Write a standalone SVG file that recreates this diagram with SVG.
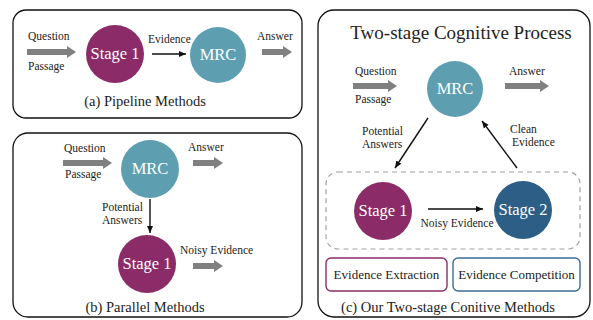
<svg xmlns="http://www.w3.org/2000/svg" width="593" height="320" viewBox="0 0 593 320" font-family="'Liberation Serif', 'Times New Roman', 'DejaVu Serif', serif">
<defs>
<style>
text{font-family:'Liberation Serif','Times New Roman','DejaVu Serif',serif;fill:#222}
.panel{fill:#fff;stroke:#111;stroke-width:1.3}
.s{font-size:11.5px}
.cap{font-size:14.5px}
.in{font-size:16.5px;fill:#fff;text-anchor:middle}
.stage1{fill:#8b2c68}
.mrc{fill:#5d9fb1}
.stage2{fill:#2c5e86}
.thick{stroke:#808080;stroke-width:6;fill:none}
.thin{stroke:#111;stroke-width:1.4;fill:none}
.dash{fill:none;stroke:#a0a0a0;stroke-width:1.2;stroke-dasharray:5 4}
.lbl{font-size:13px;text-anchor:middle}
</style>
<marker id="big" markerUnits="userSpaceOnUse" markerWidth="10" markerHeight="14" refX="1" refY="7" orient="auto">
<path d="M0,1 L9,7 L0,13 Z" fill="#808080"/>
</marker>
<marker id="small" markerUnits="userSpaceOnUse" markerWidth="8" markerHeight="8" refX="7" refY="4" orient="auto">
<path d="M0,1 L7,4 L0,7 Z" fill="#111"/>
</marker>
</defs>

<g id="panel-a">
<rect class="panel" x="13" y="10" width="289" height="108" rx="13"/>
<text class="cap" x="145" y="106" text-anchor="middle">(a) Pipeline Methods</text>
</g>
<g id="panel-b">
<rect class="panel" x="13" y="133" width="289" height="184" rx="15"/>
<text class="cap" x="145" y="312" text-anchor="middle">(b) Parallel Methods</text>
</g>
<g id="panel-c">
<rect class="panel" x="318" y="10" width="272" height="307" rx="16"/>
<text x="461" y="39" text-anchor="middle" font-size="19">Two-stage Cognitive Process</text>
<rect class="dash" x="326" y="172" width="254" height="77" rx="12"/>
<text class="cap" x="448" y="312" text-anchor="middle">(c) Our Two-stage Conitive Methods</text>
</g>

<g id="a-stage1"><circle class="stage1" cx="115" cy="54" r="29"/><text class="in" x="115" y="59">Stage 1</text></g>
<g id="a-mrc"><circle class="mrc" cx="218" cy="55" r="28"/><text class="in" x="218" y="60">MRC</text></g>

<g id="b-mrc"><circle class="mrc" cx="150" cy="169" r="29"/><text class="in" x="150" y="174">MRC</text></g>
<g id="b-stage1"><circle class="stage1" cx="147" cy="264" r="29"/><text class="in" x="147" y="269">Stage 1</text></g>

<g id="c-mrc"><circle class="mrc" cx="455" cy="89" r="28"/><text class="in" x="455" y="94">MRC</text></g>
<g id="c-stage1"><circle class="stage1" cx="383" cy="211" r="29"/><text class="in" x="383" y="216">Stage 1</text></g>
<g id="c-stage2"><circle class="stage2" cx="523" cy="210" r="29"/><text class="in" x="523" y="215">Stage 2</text></g>

<g id="c-extraction"><rect x="326" y="258" width="121" height="33" rx="5" fill="#fff" stroke="#8b2c68" stroke-width="1.4"/><text class="lbl" x="386.5" y="279">Evidence Extraction</text></g>
<g id="c-competition"><rect x="453" y="258" width="127" height="33" rx="5" fill="#fff" stroke="#3d6c94" stroke-width="1.4"/><text class="lbl" x="516.5" y="279">Evidence Competition</text></g>

<g id="connectors">
<line class="thick" x1="27" y1="52" x2="68" y2="52" marker-end="url(#big)"/>
<line class="thick" x1="262" y1="52" x2="284" y2="52" marker-end="url(#big)"/>
<line class="thin" x1="152" y1="54" x2="186" y2="54" marker-end="url(#small)"/>

<line class="thick" x1="63" y1="163" x2="104" y2="163" marker-end="url(#big)"/>
<line class="thick" x1="193" y1="163" x2="215" y2="163" marker-end="url(#big)"/>
<line class="thin" x1="150" y1="199" x2="150" y2="233" marker-end="url(#small)"/>
<line class="thick" x1="193" y1="266" x2="215" y2="266" marker-end="url(#big)"/>

<line class="thick" x1="353" y1="86" x2="389" y2="86" marker-end="url(#big)"/>
<line class="thick" x1="505" y1="86" x2="541" y2="86" marker-end="url(#big)"/>
<line class="thin" x1="428" y1="118" x2="395" y2="168" marker-end="url(#small)"/>
<line class="thin" x1="517" y1="168" x2="482" y2="121" marker-end="url(#small)"/>
<line class="thin" x1="428" y1="209" x2="483" y2="209" marker-end="url(#small)"/>
</g>

<g id="labels">
<text class="s" x="28" y="40">Question</text>
<text class="s" x="28" y="70">Passage</text>
<text class="s" x="148" y="43">Evidence</text>
<text class="s" x="257" y="40">Answer</text>

<text class="s" x="64" y="152">Question</text>
<text class="s" x="65" y="178">Passage</text>
<text class="s" x="188" y="151">Answer</text>
<text class="s" x="102" y="211">Potential</text>
<text class="s" x="102" y="224">Answers</text>
<text class="s" x="180" y="254">Noisy Evidence</text>

<text class="s" x="355" y="75">Question</text>
<text class="s" x="355" y="103">Passage</text>
<text class="s" x="509" y="75">Answer</text>
<text class="s" x="362" y="135">Potential</text>
<text class="s" x="362" y="148">Answers</text>
<text class="s" x="510" y="133">Clean</text>
<text class="s" x="512" y="146">Evidence</text>
<text class="s" x="457" y="227" text-anchor="middle">Noisy Evidence</text>
</g>
</svg>
